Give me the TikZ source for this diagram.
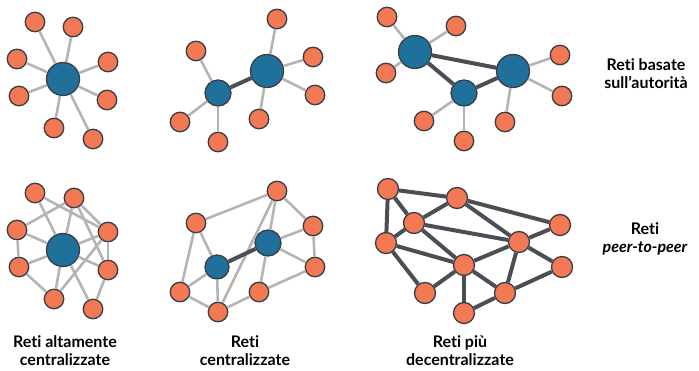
\documentclass[tikz,border=0pt]{standalone}
\usepackage{fontspec}
\setmainfont{Lato}[Ligatures={NoCommon,NoRare,NoDiscretionary}]
\definecolor{leafc}{RGB}{242,121,84}
\definecolor{hubc}{RGB}{32,112,156}
\definecolor{outc}{RGB}{58,62,68}
\definecolor{lightedge}{RGB}{180,180,180}
\definecolor{darkedge}{RGB}{74,78,85}
\tikzset{
  leaf/.style={circle, fill=leafc, draw=outc, line width=1.3pt, minimum size=19.5pt, inner sep=0pt},
  hubbig/.style={circle, fill=hubc, draw=outc, line width=1.3pt, minimum size=33pt, inner sep=0pt},
  hubmid/.style={circle, fill=hubc, draw=outc, line width=1.3pt, minimum size=26pt, inner sep=0pt},
  peer/.style={circle, fill=leafc, draw=outc, line width=1.3pt, minimum size=21pt, inner sep=0pt},
  weak/.style={draw=lightedge, line width=2.6pt},
  strong/.style={draw=darkedge, line width=4pt},
  caption/.style={align=center, font=\fontsize{16}{18}\selectfont\bfseries, text=black}
}
\begin{document}
\begin{tikzpicture}[x=1pt,y=-1pt]
\useasboundingbox (0,0) rectangle (699,371);

% ---------- star network ----------
\node[hubbig] (s0) at (63,79) {};
\foreach \n/\p in {1/{35,22},2/{73,27},3/{17,59},4/{108,62},5/{19,96},6/{107,100},7/{54,128},8/{93,139}}
  \node[leaf] (s\n) at (\p) {};
\foreach \n in {1,...,8} \draw[weak] (s0) -- (s\n);

% ---------- two hubs ----------
\node[hubbig] (t0) at (267,71) {};
\node[hubmid] (t9) at (218,93) {};
\foreach \n/\p in {1/{277,19},2/{196,51},3/{313,57},4/{315,95},5/{180,122},6/{259,119},7/{218,142}}
  \node[leaf] (t\n) at (\p) {};
\foreach \n in {1,3,4,6} \draw[weak] (t0) -- (t\n);
\foreach \n in {2,5,7} \draw[weak] (t9) -- (t\n);
\draw[strong] (t0) -- (t9);

% ---------- three hubs ----------
\node[hubbig] (uA) at (415,52) {};
\node[hubbig] (uB) at (513,71) {};
\node[hubmid] (uC) at (464,93) {};
\foreach \n/\p in {1/{387,17},2/{456,26},3/{386,73},4/{424,121},5/{464,141},6/{505,122},7/{560,55},8/{562,96}}
  \node[leaf] (u\n) at (\p) {};
\foreach \n in {1,2,3} \draw[weak] (uA) -- (u\n);
\foreach \n in {4,5} \draw[weak] (uC) -- (u\n);
\foreach \n in {6,7,8} \draw[weak] (uB) -- (u\n);
\draw[strong] (uA) -- (uB);
\draw[strong] (uA) -- (uC);
\draw[strong] (uC) -- (uB);

% ---------- meshed star ----------
\node[hubbig] (v0) at (63,250) {};
\foreach \n/\p in {A/{35,193},B/{74,198},C/{17,230},D/{108,232},E/{19,267},F/{108,270},G/{54,299},H/{93,309}}
  \node[leaf] (v\n) at (\p) {};
\foreach \n in {A,B,C,D,E,F,G,H} \draw[weak] (v0) -- (v\n);
\foreach \a/\b in {A/D,B/C,B/D,B/F,C/E,E/G,D/F,D/G,F/H}
  \draw[weak] (v\a) -- (v\b);

% ---------- meshed two hubs ----------
\node[hubmid] (w0) at (268,243) {};
\node[hubmid, minimum size=24pt] (w9) at (217,267) {};
\foreach \n/\p in {T/{277,191},U/{196,223},R/{313,226},Q/{315,267},L/{180,292},M/{259,292},B/{218,312}}
  \node[leaf] (w\n) at (\p) {};
\foreach \n in {T,R,Q,M} \draw[weak] (w0) -- (w\n);
\foreach \n in {U,L,B} \draw[weak] (w9) -- (w\n);
\foreach \a/\b in {U/T,T/R,R/Q,U/L,L/B,B/M,M/Q,T/B}
  \draw[weak] (w\a) -- (w\b);
\draw[strong] (w0) -- (w9);

% ---------- peer-to-peer mesh ----------
\foreach \n/\p in {1/{388,189},2/{457,198},3/{414,223},4/{386,243},5/{519,242},6/{464,265},7/{425,293},8/{505,293},9/{464,313},10/{560,225},11/{562,267}}
  \node[peer] (p\n) at (\p) {};
\foreach \a/\b in {1/2,1/3,1/4,2/3,3/4,2/5,2/10,3/5,3/6,4/6,4/7,6/7,6/5,6/9,6/8,8/9,5/8,5/10,5/11,8/11}
  \draw[strong] (p\a) -- (p\b);

% ---------- labels ----------
\node[caption] (lab1) at (646,74) {Reti basate\\sull’autorità};
\node[caption] (lab2) at (645,239) {Reti\\\itshape peer-to-peer};
\node[caption] (lab3) at (65,351) {Reti altamente\\centralizzate};
\node[caption] (lab4) at (245,351) {Reti\\centralizzate};
\node[caption] (lab5) at (460,351) {Reti più\\decentralizzate};
\end{tikzpicture}
\end{document}
